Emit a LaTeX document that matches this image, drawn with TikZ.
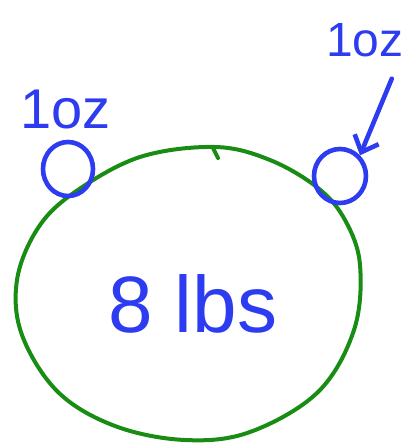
\documentclass[tikz,border=0pt]{standalone}
\usepackage{fontspec}
\setmainfont{Liberation Sans}
\usetikzlibrary{arrows.meta,shapes.geometric}
\definecolor{penblue}{RGB}{45,60,240}
\definecolor{pengreen}{RGB}{25,140,20}
\begin{document}
\begin{tikzpicture}[x=1pt,y=-1pt,line cap=round,line join=round,
  bluepen/.style={draw=penblue,line width=4.6pt},
  greenpen/.style={draw=pengreen,line width=4pt},
  lbl/.style={text=penblue,inner sep=0pt,anchor=base west}]
\useasboundingbox (0,0) rectangle (406,445);
% big mass
\draw[greenpen] plot[smooth cycle,tension=0.6] coordinates {
 (215,147) (270,160) (318,188) (345,220) (360,265) (354,330) (318,392) (250,432)
 (185,440) (115,426) (58,392) (22,335) (17,280) (38,228) (75,192) (140,157)};
\draw[greenpen] (213,148) -- (218,158);
% small masses
\node[bluepen,ellipse,minimum width=50pt,minimum height=54pt,inner sep=0pt] (lc) at (68,169) {};
\node[bluepen,ellipse,minimum width=52pt,minimum height=54pt,inner sep=0pt] (rc) at (340,176) {};
% labels
\node[lbl,font=\fontsize{56}{56}\selectfont] (ll) at (20,128) {1oz};
\node[lbl,font=\fontsize{48}{48}\selectfont] (rl) at (326,56) {1oz};
\node[lbl,font=\fontsize{80}{80}\selectfont] (ml) at (108,332) {8 lbs};
% arrow
\draw[bluepen,-{Straight Barb[length=14pt,width=26pt]}] ([xshift=-12pt,yshift=-22pt]rl.south east) -- (rc.north east);
\end{tikzpicture}
\end{document}
